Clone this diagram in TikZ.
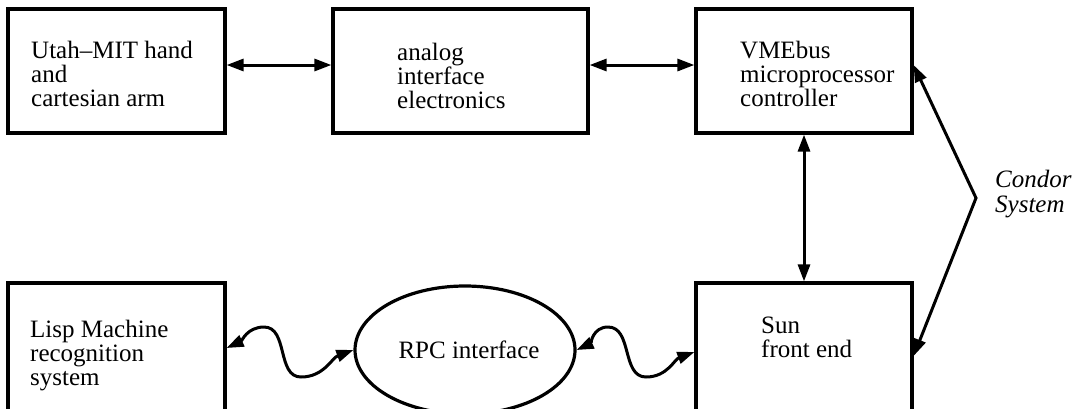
\documentclass[tikz,border=0pt]{standalone}
\usepackage{fontspec}
\setmainfont{Liberation Serif}
\usetikzlibrary{arrows.meta,shapes.geometric}
\begin{document}
\begin{tikzpicture}[x=1pt,y=-1pt,
  box/.style={draw,line width=3.2pt,inner sep=0pt},
  txt/.style={anchor=base west,inner sep=0pt,font=\fontsize{25}{24}\selectfont},
  arr/.style={line width=3pt,{Triangle[length=17pt,width=12pt]}-{Triangle[length=17pt,width=12pt]}}]
\useasboundingbox (0,0) rectangle (1091,408);
\clip (0,0) rectangle (1091,408);
% boxes
\node[box,minimum width=217pt,minimum height=124pt] (hand) at (116.5,71) {};
\node[box,minimum width=255pt,minimum height=124pt] (analog) at (460.5,71) {};
\node[box,minimum width=216pt,minimum height=124pt] (vme) at (804,71) {};
\node[box,minimum width=216pt,minimum height=134pt] (sun) at (804,350) {};
\node[box,minimum width=217pt,minimum height=134pt] (lisp) at (116.5,350) {};
\node[draw,line width=3.2pt,ellipse,minimum width=220pt,minimum height=128pt,inner sep=0pt] (rpc) at (465,350) {};
% texts
\node[txt] (t1) at (31,58) {\vtop{\hbox{Utah–MIT hand}\hbox{and}\hbox{cartesian arm}}};
\node[txt] (t2) at (397,60) {\vtop{\hbox{analog}\hbox{interface}\hbox{electronics}}};
\node[txt] (t3) at (740,58) {\vtop{\hbox{VMEbus}\hbox{microprocessor}\hbox{controller}}};
\node[txt] (t4) at (761,333) {\vtop{\hbox{Sun}\hbox{front end}}};
\node[txt] (t5) at (30,337) {\vtop{\hbox{Lisp Machine}\hbox{recognition}\hbox{system}}};
\node[inner sep=0pt,font=\fontsize{25}{24}\selectfont] (t6) at ([xshift=4pt]rpc.center) {RPC interface};
\node[txt,font=\fontsize{25}{25}\selectfont\itshape] (t7) at (995,187) {\vtop{\hbox{Condor}\hbox{System}}};
% connectors
\draw[arr] ([yshift=6pt]hand.east) -- ([yshift=6pt]analog.west);
\draw[arr] ([yshift=6pt]analog.east) -- ([yshift=6pt]vme.west);
\draw[arr] (vme.south) -- (sun.north);
\coordinate (cv) at (976,198);
\draw[arr] ([yshift=6pt]vme.east) -- (cv) -- ([yshift=-6pt]sun.east);
\coordinate (p1) at (264,327);
\coordinate (q1) at (301,377);
\draw[arr] ([yshift=2pt]lisp.east) to[out=25,in=180] (p1) to[out=0,in=180] (q1) to[out=0,in=200] (rpc.west);
\coordinate (p2) at (608,327);
\coordinate (q2) at (646,377);
\draw[arr] (rpc.east) to[out=25,in=180] (p2) to[out=0,in=180] (q2) to[out=0,in=200] ([yshift=-2pt]sun.west);
\end{tikzpicture}
\end{document}
